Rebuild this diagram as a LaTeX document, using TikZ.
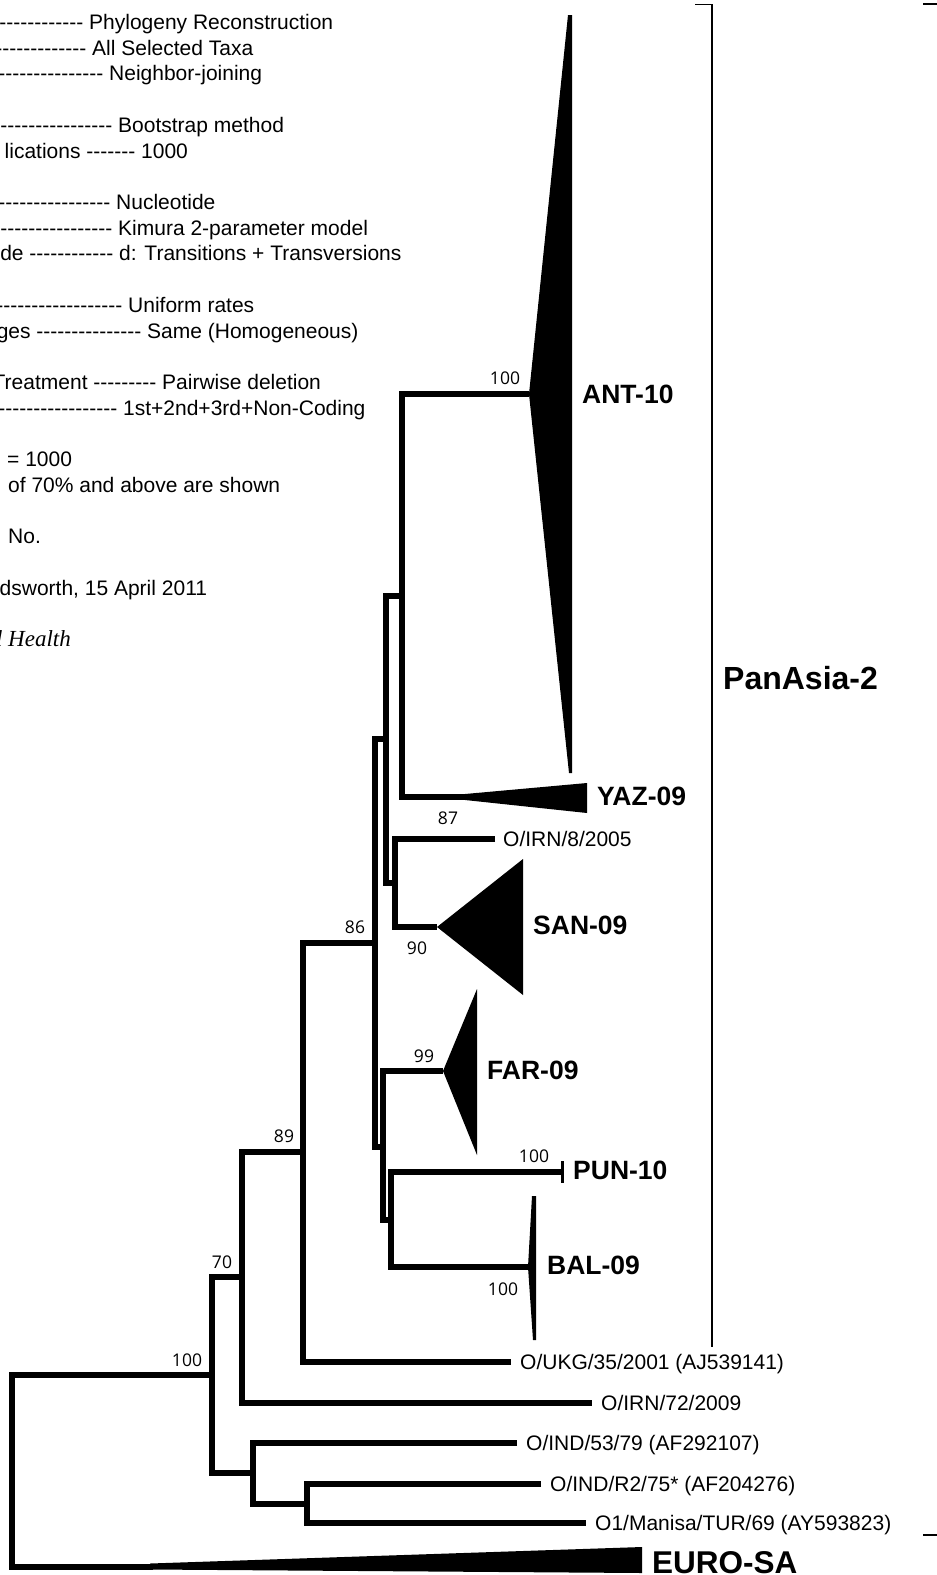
\documentclass[tikz,border=0pt]{standalone}
\usepackage{fontspec}
\setmainfont{Liberation Sans}[Ligatures=TeXOff]
\newfontfamily\numfont{Open Sans}
\newfontfamily\serifit{Liberation Serif}[Ligatures=TeXOff]
\begin{document}
\begin{tikzpicture}[x=1pt,y=-1pt,
  br/.style={line width=6pt,line join=miter},
  brk/.style={line width=1.6pt,line join=miter},
  hdr/.style={anchor=base west,inner sep=0pt,font=\fontsize{21pt}{25pt}\selectfont},
  leaf/.style={anchor=base west,inner sep=0pt,font=\fontsize{21pt}{25pt}\selectfont},
  clade/.style={anchor=base west,inner sep=0pt,font=\bfseries\fontsize{26.5pt}{30pt}\selectfont},
  boot/.style={anchor=base,inner sep=0pt,font=\numfont\fontsize{17.5pt}{20pt}\selectfont}]
\useasboundingbox (0,0) rectangle (937,1575);
\clip (0,0) rectangle (937,1575);
\fill[white] (0,0) rectangle (937,1575);

% ---------- header text ----------
\node[hdr] (h0)  at (89,29.5)  {\llap{------------ }Phylogeny Reconstruction};
\node[hdr] (h1)  at (92,55.2)  {\llap{------------- }All Selected Taxa};
\node[hdr] (h2)  at (109,80.9) {\llap{--------------- }Neighbor-joining};
\node[hdr] (h4)  at (118,132.3) {\llap{---------------- }Bootstrap method};
\node[hdr] (h5)  at (141,158.1) {\llap{lications ------- }1000};
\node[hdr] (h7)  at (116,209.5) {\llap{---------------- }Nucleotide};
\node[hdr] (h8)  at (118,235.2) {\llap{---------------- }Kimura 2-parameter model};
\node[hdr] (h9)  at (119,260.9) {\llap{de ------------ }d: Transitions + Transversions};
\node[hdr] (h11) at (128,312.3) {\llap{------------------ }Uniform rates};
\node[hdr] (h12) at (147,338.0) {\llap{ges --------------- }Same (Homogeneous)};
\node[hdr] (h14) at (162,389.4) {\llap{Treatment --------- }Pairwise deletion};
\node[hdr] (h15) at (123,415.2) {\llap{----------------- }1st+2nd+3rd+Non-Coding};
\node[hdr] (h17) at (7,466.6)  {= 1000};
\node[hdr] (h18) at (8,492.3)  {of 70\% and above are shown};
\node[hdr] (h20) at (8,543.7)  {No.};
\node[hdr] (h22) at (-0.5,595.1) {dsworth, 15 April 2011};
\node[anchor=base west,inner sep=0pt,font=\serifit\itshape\fontsize{23pt}{26pt}\selectfont] (h24) at (8,646.5) {\llap{l }Health};

% ---------- coordinates ----------
\coordinate (antA) at (529,394);
\coordinate (yazA) at (467,797);
\coordinate (nA) at (402,595.5);
\coordinate (irn8) at (495,839);
\coordinate (sanA) at (437,927);
\coordinate (nC) at (395,883);
\coordinate (nB) at (386,739);
\coordinate (farA) at (443,1071);
\coordinate (pun) at (562,1172);
\coordinate (balA) at (528,1267);
\coordinate (nF) at (391,1219.5);
\coordinate (nE) at (383,1147);
\coordinate (nD) at (375,943);
\coordinate (ukg) at (511,1362);
\coordinate (nJ) at (303,1152);
\coordinate (irn72) at (592,1403);
\coordinate (nH) at (242,1277);
\coordinate (ind53) at (517,1443);
\coordinate (r2) at (541,1484);
\coordinate (manisa) at (586,1523);
\coordinate (nK) at (307,1503.5);
\coordinate (nI) at (253,1473);
\coordinate (nG) at (212,1375);
\coordinate (euroS) at (153,1566.5);
\coordinate (root) at (12,1471);

% ---------- branches ----------
\draw[br] (antA) -| (nA) |- (yazA);
\draw[br] (irn8) -| (nC) |- (sanA);
\draw[br] (nA) -| (nB) |- (nC);
\draw[br] (pun) -| (nF) |- (balA);
\draw[br] (farA) -| (nE) |- (nF);
\draw[br] (nB) -| (nD) |- (nE);
\draw[br] (nD) -| (nJ) |- (ukg);
\draw[br] (nJ) -| (nH) |- (irn72);
\draw[br] (r2) -| (nK) |- (manisa);
\draw[br] (ind53) -| (nI) |- (nK);
\draw[br] (nH) -| (nG) |- (nI);
\draw[br] (nG) -| (root) |- (euroS);
\draw[line width=3pt] (pun) ++(0,-11) -- ++(0,22);

% ---------- collapsed clades ----------
\fill (antA) -- (568,15) -- (572,15) -- (572,773) -- (569,773) -- cycle;
\fill (465,794) -- (587,783) -- (587,813) -- (465,800) -- cycle;
\fill (sanA) -- (523,859) -- (523,995) -- cycle;
\fill (farA) -- (477,989) -- (477,1155) -- cycle;
\fill (balA) -- (532,1196) -- (536,1196) -- (536,1340) -- (533,1340) -- cycle;
\fill (150,1563.5) -- (642,1547) -- (642,1573) -- (150,1569.5) -- cycle;

% ---------- brackets ----------
\coordinate (bt0) at (695,4.3);
\coordinate (bb) at (712,1347);
\draw[brk] (bt0) -| (bb);
\coordinate (rt0) at (923,4.3);
\coordinate (rt1) at (940,4.3);
\coordinate (rb0) at (923,1535);
\coordinate (rb1) at (940,1535);
\draw[line width=2pt] (rt0) -- (rt1);
\draw[line width=2pt] (rb0) -- (rb1);

% ---------- clade labels ----------
\node[clade] (lANT) at (582,403) {ANT-10};
\node[clade] (lYAZ) at (597,805) {YAZ-09};
\node[clade] (lSAN) at (533,934) {SAN-09};
\node[clade] (lFAR) at (487,1079) {FAR-09};
\node[clade] (lPUN) at (573,1179) {PUN-10};
\node[clade] (lBAL) at (547,1274) {BAL-09};
\node[anchor=base west,inner sep=0pt,font=\bfseries\fontsize{32pt}{36pt}\selectfont] (lPan) at (723,689) {PanAsia-2};
\node[anchor=base west,inner sep=0pt,font=\bfseries\fontsize{31.5pt}{35pt}\selectfont] (lEuro) at (652,1573) {EURO-SA};

% ---------- leaf labels ----------
\node[leaf] (tIRN8) at (503,846) {O/IRN/8/2005};
\node[leaf] (tUKG) at (520,1369) {O/UKG/35/2001 (AJ539141)};
\node[leaf] (tIRN72) at (601,1410) {O/IRN/72/2009};
\node[leaf] (tIND53) at (526,1450) {O/IND/53/79 (AF292107)};
\node[leaf] (tR2) at (550,1491) {O/IND/R2/75* (AF204276)};
\node[leaf] (tMan) at (595,1530) {O1/Manisa/TUR/69 (AY593823)};

% ---------- bootstrap values ----------
\node[boot] (b1) at (505,384) {100};
\node[boot] (b2) at (448,824) {87};
\node[boot] (b3) at (417,954) {90};
\node[boot] (b4) at (355,933) {86};
\node[boot] (b5) at (424,1062) {99};
\node[boot] (b6) at (534,1162) {100};
\node[boot] (b7) at (503,1295) {100};
\node[boot] (b8) at (284,1142) {89};
\node[boot] (b9) at (222,1268) {70};
\node[boot] (b10) at (187,1366) {100};
\end{tikzpicture}
\end{document}
